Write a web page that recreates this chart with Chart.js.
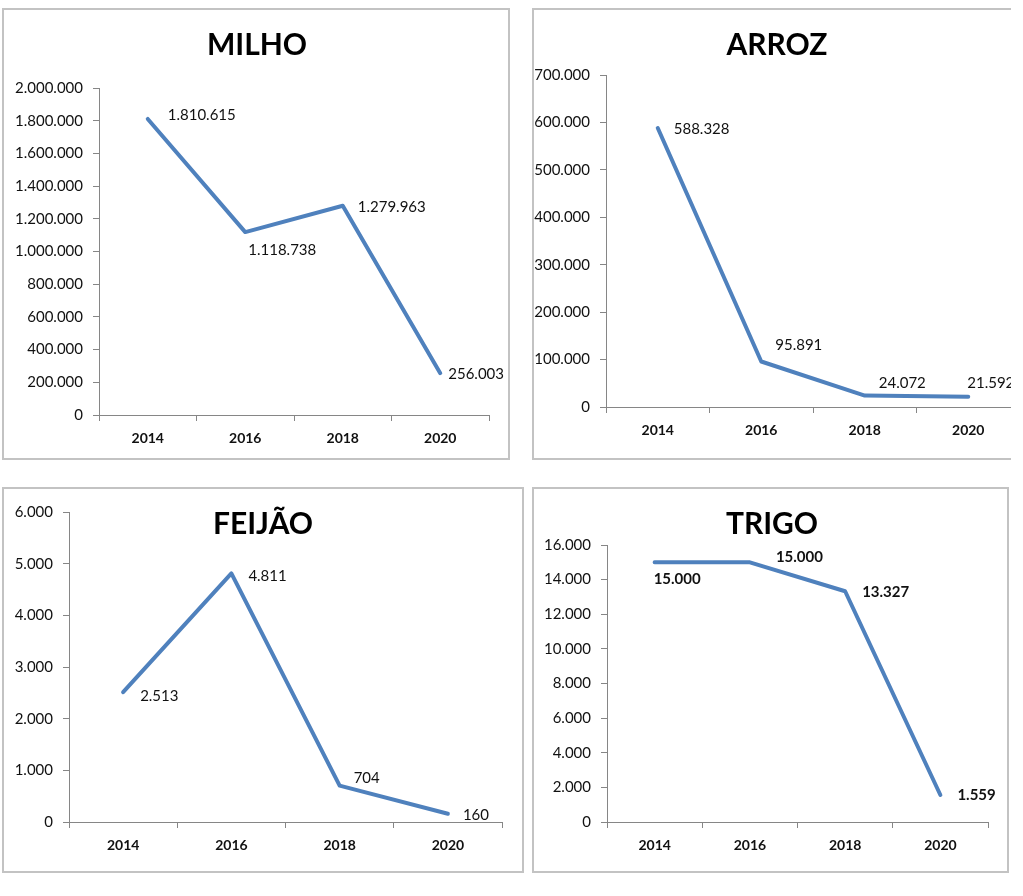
<!DOCTYPE html>
<html>
<head>
<meta charset="utf-8">
<script src="https://cdn.jsdelivr.net/npm/chart.js@4"></script>
<style>
  html, body { margin: 0; padding: 0; background: #fff; }
  body { width: 1023px; height: 896px; position: relative; overflow: hidden; }
  .panel { position: absolute; box-sizing: border-box; border: 2px solid #c3c3c3; overflow: hidden; background: #fff; }
  .panel canvas { position: absolute; left: 0; top: 0; }
</style>
</head>
<body>
<div class="panel" id="p1" style="left:2px;top:8px;width:508px;height:452px;"><canvas id="c1" width="504" height="448"></canvas></div>
<div class="panel" id="p2" style="left:532px;top:8px;width:479px;height:452px;border-right:none;"><canvas id="c2" width="500" height="448"></canvas></div>
<div class="panel" id="p3" style="left:2px;top:487px;width:522px;height:386px;"><canvas id="c3" width="518" height="382"></canvas></div>
<div class="panel" id="p4" style="left:532px;top:487px;width:477px;height:386px;"><canvas id="c4" width="473" height="382"></canvas></div>
<script>
// ---- data ----
const years = ['2014', '2016', '2018', '2020'];
const milho = [1810615, 1118738, 1279963, 256003];
const arroz = [588328, 95891, 24072, 21592];
const feijao = [2513, 4811, 704, 160];
const trigo = [15000, 15000, 13327, 1559];
const titles = ['MILHO', 'ARROZ', 'FEIJÃO', 'TRIGO'];
const yMax = [2000000, 700000, 6000, 16000];
const yStep = [200000, 100000, 1000, 2000];

function fmt(v) {
  return String(Math.round(v)).replace(/\B(?=(\d{3})+(?!\d))/g, '.');
}

const LINE = '#4F81BD';
const AXIS = '#868686';
const TEXT = '#111111';

const labelPlugin = {
  id: 'ptLabels',
  afterDatasetsDraw(chart, args, opts) {
    const meta = chart.getDatasetMeta(0);
    const vals = chart.data.datasets[0].data;
    const ctx = chart.ctx;
    ctx.save();
    ctx.font = (opts.bold ? 'bold ' : '') + '15px Lato';
    ctx.fillStyle = TEXT;
    ctx.textAlign = 'left';
    ctx.textBaseline = 'middle';
    meta.data.forEach((pt, i) => {
      const o = opts.offsets[i];
      ctx.fillText(fmt(vals[i]), pt.x + o[0], pt.y + o[1]);
    });
    ctx.restore();
  }
};

const titlePlugin = {
  id: 'panelTitle',
  afterDraw(chart, args, opts) {
    const ctx = chart.ctx;
    ctx.save();
    ctx.font = 'bold 30px Lato';
    ctx.fillStyle = '#000';
    ctx.textAlign = 'center';
    ctx.textBaseline = 'alphabetic';
    ctx.fillText(opts.text, opts.x, opts.y);
    ctx.restore();
  }
};

const XH = 40;

function makeChart(id, values, idx, geo, labelOpts) {
  const canvas = document.getElementById(id);
  const W = canvas.width, H = canvas.height;
  return new Chart(canvas, {
    type: 'line',
    data: {
      labels: years,
      datasets: [{
        data: values,
        borderColor: LINE,
        borderWidth: 4,
        pointRadius: 0,
        pointHoverRadius: 0,
        tension: 0,
        borderCapStyle: 'round',
        borderJoinStyle: 'round',
        fill: false,
        clip: false
      }]
    },
    options: {
      responsive: false,
      animation: false,
      events: [],
      layout: {
        padding: {
          left: 0,
          top: geo.top,
          right: W - geo.right,
          bottom: H - geo.bottom - XH
        }
      },
      plugins: {
        legend: { display: false },
        tooltip: { enabled: false },
        title: { display: false },
        ptLabels: labelOpts,
        panelTitle: { text: titles[idx], x: geo.titleX, y: 45 }
      },
      scales: {
        x: {
          offset: true,
          grid: { offset: true, drawOnChartArea: false, drawTicks: true, tickLength: 6, color: AXIS, lineWidth: 1 },
          border: { display: true, color: AXIS, width: 1 },
          ticks: { font: { family: 'Lato', size: 14, weight: 'bold' }, color: TEXT, padding: 9, maxRotation: 0, autoSkip: false },
          afterFit(s) { s.height = XH; }
        },
        y: {
          min: 0,
          max: yMax[idx],
          grid: { drawOnChartArea: false, drawTicks: true, tickLength: 6, color: AXIS, lineWidth: 1 },
          border: { display: true, color: AXIS, width: 1 },
          ticks: {
            stepSize: yStep[idx],
            autoSkip: false,
            font: { family: 'Lato', size: 15 },
            color: TEXT,
            padding: 10,
            callback: (v) => fmt(v)
          },
          afterFit(s) { s.width = geo.left; }
        }
      }
    },
    plugins: [labelPlugin, titlePlugin]
  });
}

function draw() {
  Chart.defaults.font.family = 'Lato';
  makeChart('c1', milho, 0,
    { left: 95, right: 485, top: 78, bottom: 405, titleX: 253 },
    { bold: false, offsets: [[20, -4], [3, 18], [15, 1], [8, 1]] });
  makeChart('c2', arroz, 1,
    { left: 72, right: 486, top: 65, bottom: 397, titleX: 243 },
    { bold: false, offsets: [[16, 1], [14, -16], [14, -12], [-1, -14]] });
  makeChart('c3', feijao, 2,
    { left: 65, right: 498, top: 23, bottom: 333, titleX: 259 },
    { bold: false, offsets: [[17, 4], [17, 3], [14, -7], [15, 1]] });
  makeChart('c4', trigo, 3,
    { left: 73, right: 454, top: 56, bottom: 333, titleX: 238 },
    { bold: true, offsets: [[-1, 17], [26, -5], [17, 1], [17, 0]] });
}

Promise.all([
  document.fonts.load('14px Lato'),
  document.fonts.load('15px Lato'),
  document.fonts.load('bold 14px Lato'),
  document.fonts.load('bold 15px Lato'),
  document.fonts.load('bold 30px Lato')
]).then(draw, draw);
</script>
</body>
</html>
